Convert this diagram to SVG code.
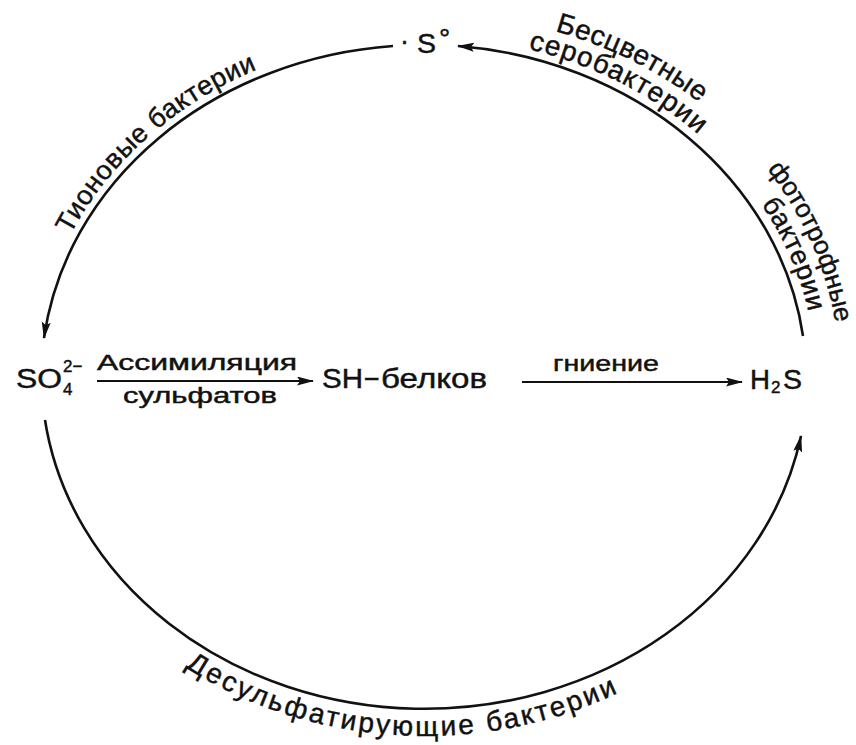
<svg xmlns="http://www.w3.org/2000/svg" width="856" height="745" viewBox="0 0 856 745">
<style>
text{font-family:"Liberation Sans",Arial,sans-serif;fill:#111;stroke:#111;stroke-width:0.45;}
.l26{font-size:26px;}
.l27{font-size:27px;}
.l28{font-size:28px;}
.big{font-size:27px;}
.mid{font-size:22px;}
.sm{font-size:17px;}
.arc{fill:none;stroke:#111;stroke-width:2.6;}
.ln{fill:none;stroke:#111;stroke-width:2.2;}
</style>
<defs>
<marker id="ah" markerUnits="userSpaceOnUse" markerWidth="18" markerHeight="10" refX="16" refY="4.5" orient="auto">
<path d="M0,0 L17,4.5 L0,9 L3,4.5 z" fill="#111"/>
</marker>
<path id="p1" d="M70.6,234.5 A392,343 0 0,1 263,67"/>
<path id="p2" d="M528.2,49.1 A391,342 0 0,1 700.5,136.3"/>
<path id="p3" d="M555,31 A417,368 0 0,1 704,106"/>
<path id="p4" d="M761.2,204.4 A391,342 0 0,1 808,310"/>
<path id="p5" d="M767,169 A415,366 0 0,1 836,326"/>
<path id="p6" d="M185.2,667.1 A406,357 0 0,0 630,687"/>
</defs>
<rect width="856" height="745" fill="#fff"/>

<g id="connectors">
<path class="arc" d="M393,46 A383,334 0 0,0 44,338" marker-end="url(#ah)"/>
<path class="arc" d="M803,336 A383,334 0 0,0 458,46" marker-end="url(#ah)"/>
<path class="arc" d="M45,420 A383,334 0 0,0 801,436" marker-end="url(#ah)"/>
<line class="ln" x1="97" y1="381" x2="313" y2="381" marker-end="url(#ah)"/>
<line class="ln" x1="522" y1="382" x2="742" y2="382" marker-end="url(#ah)"/>
</g>

<g id="labels">
<text class="l27"><textPath href="#p1" textLength="254" lengthAdjust="spacing">Тионовые бактерии</textPath></text>
<text class="l28"><textPath href="#p3" textLength="162" lengthAdjust="spacing">Бесцветные</textPath></text>
<text class="l28"><textPath href="#p2" textLength="192" lengthAdjust="spacing">серобактерии</textPath></text>
<text class="l26"><textPath href="#p5" textLength="170" lengthAdjust="spacing">фототрофные</textPath></text>
<text class="l27"><textPath href="#p4" textLength="118" lengthAdjust="spacing">бактерии</textPath></text>
<text class="l28"><textPath href="#p6" textLength="452" lengthAdjust="spacing">Десульфатирующие бактерии</textPath></text>
<text class="mid" x="97" y="370" textLength="200" lengthAdjust="spacingAndGlyphs">Ассимиляция</text>
<text class="mid" x="123" y="403" textLength="154" lengthAdjust="spacingAndGlyphs">сульфатов</text>
<text class="mid" x="553" y="371" textLength="106" lengthAdjust="spacingAndGlyphs">гниение</text>
</g>

<g id="node-S">
<text class="big" x="400" y="50">·</text>
<text class="big" x="417" y="53" textLength="19" lengthAdjust="spacingAndGlyphs">S</text>
<text class="l28" x="439" y="48">°</text>
</g>

<g id="node-SO4">
<text class="big" x="16" y="388" textLength="46" lengthAdjust="spacingAndGlyphs">SO</text>
<text class="sm" x="63" y="395">4</text>
<text class="sm" x="63" y="372">2−</text>
</g>

<g id="node-SH">
<text class="big" x="322" y="388" textLength="41" lengthAdjust="spacingAndGlyphs">SH</text>
<text class="big" x="364" y="388">−</text>
<text class="big" x="381" y="388" textLength="106" lengthAdjust="spacingAndGlyphs">белков</text>
</g>

<g id="node-H2S">
<text class="big" x="750" y="389" textLength="20" lengthAdjust="spacingAndGlyphs">H</text>
<text class="sm" x="771" y="393">2</text>
<text class="big" x="783" y="389" textLength="19" lengthAdjust="spacingAndGlyphs">S</text>
</g>
</svg>
